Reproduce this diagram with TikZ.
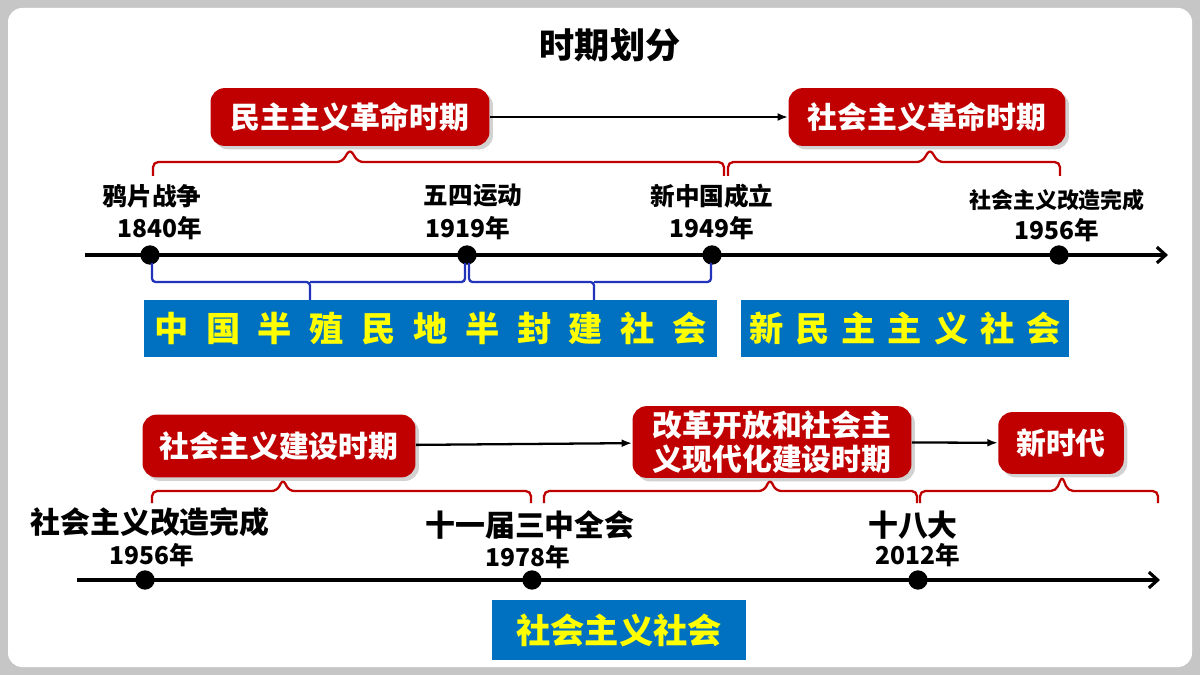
\documentclass[tikz,border=0pt]{standalone}
\usepackage{fontspec}
\setmainfont{Noto Sans CJK SC}
\usetikzlibrary{arrows.meta,shadows}
\definecolor{dred}{HTML}{C00000}
\definecolor{bbox}{HTML}{0070C0}
\definecolor{bbr}{HTML}{2233BB}
\definecolor{yel}{HTML}{FFFF00}
\newcommand{\fs}[1]{\fontsize{#1}{#1}\selectfont}
\newcommand{\gp}{\hspace{10pt}}
\newcommand{\gq}{\hspace{6.8pt}}
\tikzset{
 period/.style={fill=dred,rounded corners=8pt,text=white,font=\bfseries\fs{17},align=center,inner sep=0pt,drop shadow={shadow xshift=2pt,shadow yshift=-2pt,opacity=0.35}},
 era/.style={fill=bbox,text=yel,font=\bfseries\fs{19.5},inner sep=0pt},
 lab/.style={font=\bfseries\fs{14},inner sep=0pt},
 lab2/.style={font=\bfseries\fs{17},inner sep=0pt},
 yr/.style={font=\bfseries\fs{14},inner sep=0pt},
 dot/.style={circle,fill=black,minimum size=11pt,inner sep=0pt},
 axis/.style={line width=1.8pt,-{Straight Barb[length=5pt,width=9pt]}},
 link/.style={line width=1.3pt,-{Latex[length=6pt]}},
 rbr/.style={draw=dred,line width=1.3pt,rounded corners=3pt},
 bbrk/.style={draw=bbr,line width=1.3pt,rounded corners=2pt}
}
\begin{document}
\begin{tikzpicture}[x=0.02cm,y=-0.02cm]
\fill[gray!45] (0,0) rectangle (1200,675);
\fill[white,rounded corners=8pt] (8,8) rectangle (1192,667);
\node[font=\bfseries\fs{20}] (title) at (610,45) {时期划分};
% top periods
\node[period,minimum width=280*0.567pt,minimum height=58*0.567pt] (p1) at (350,117) {民主主义革命时期};
\node[period,minimum width=278*0.567pt,minimum height=58*0.567pt] (p2) at (927,117) {社会主义革命时期};
\draw[link] (p1) -- (p2);
\draw[rbr] (153,176) |- (342,162) -- (350,149) -- (358,162) -| (724,176);
\draw[rbr] (728,176) |- (922,162) -- (930,149) -- (938,162) -| (1060,176);
% axis 1
\coordinate (a1s) at (85,255); \coordinate (a1e) at (1168,255);
\draw[axis] (a1s) -- (a1e);
\node[dot] (d1) at (150,255) {}; \node[dot] (d2) at (467,255) {};
\node[dot] (d3) at (712,255) {}; \node[dot] (d4) at (1059,255) {};
\node[lab] (l1) at (152,196) {鸦片战争}; \node[yr] (y1) at (160,228) {1840年};
\node[lab] (l2) at (473,196) {五四运动}; \node[yr] (y2) at (468,228) {1919年};
\node[lab] (l3) at (712,196) {新中国成立}; \node[yr] (y3) at (712,228) {1949年};
\node[font=\bfseries\fs{12.5},inner sep=0pt] (l4) at (1057,200) {社会主义改造完成}; \node[yr] (y4) at (1057,230) {1956年};
\draw[bbrk] (152,263) |- (310,282) -- (310,301);
\draw[bbrk] (310,282) -| (465,263);
\draw[bbrk] (469,263) |- (594,282) -- (594,301);
\draw[bbrk] (594,282) -| (711,263);
\node[era,minimum width=575*0.567pt,minimum height=57*0.567pt] (e1) at (430.5,328.5) {中\gp 国\gp 半\gp 殖\gp 民\gp 地\gp 半\gp 封\gp 建\gp 社\gp 会};
\node[era,minimum width=330*0.567pt,minimum height=57*0.567pt] (e2) at (905,328.5) {新\gq 民\gq 主\gq 主\gq 义\gq 社\gq 会};
% bottom periods
\node[period,minimum width=274*0.567pt,minimum height=63*0.567pt] (q1) at (279,446) {社会主义建设时期};
\node[period,minimum width=280*0.567pt,minimum height=72*0.567pt] (q2) at (772,442) {改革开放和社会主\\[2pt]义现代化建设时期};
\node[period,minimum width=126*0.567pt,minimum height=62*0.567pt] (q3) at (1061,443) {新时代};
\draw[link] (q1) -- (q2);
\draw[link] (q2) -- (q3);
\draw[rbr] (152,503) |- (277,491) -- (283,479) -- (289,491) -| (531,503);
\draw[rbr] (544,503) |- (764,491) -- (770,479) -- (776,491) -| (917,503);
\draw[rbr] (920,503) |- (1056,491) -- (1062,476) -- (1068,491) -| (1158,503);
\coordinate (a2s) at (77,580); \coordinate (a2e) at (1160,580);
\draw[axis] (a2s) -- (a2e);
\node[dot] (f1) at (145,580) {}; \node[dot] (f2) at (532,580) {}; \node[dot] (f3) at (918,580) {};
\node[lab2] (m1) at (150,522) {社会主义改造完成}; \node[yr] (z1) at (152,555) {1956年};
\node[lab2] (m2) at (530,525) {十一届三中全会}; \node[yr] (z2) at (528,557) {1978年};
\node[lab2] (m3) at (913,525) {十八大}; \node[yr] (z3) at (918,555) {2012年};
\node[era,minimum width=254*0.567pt,minimum height=60*0.567pt] (e3) at (619,630) {社会主义社会};
\end{tikzpicture}
\end{document}
